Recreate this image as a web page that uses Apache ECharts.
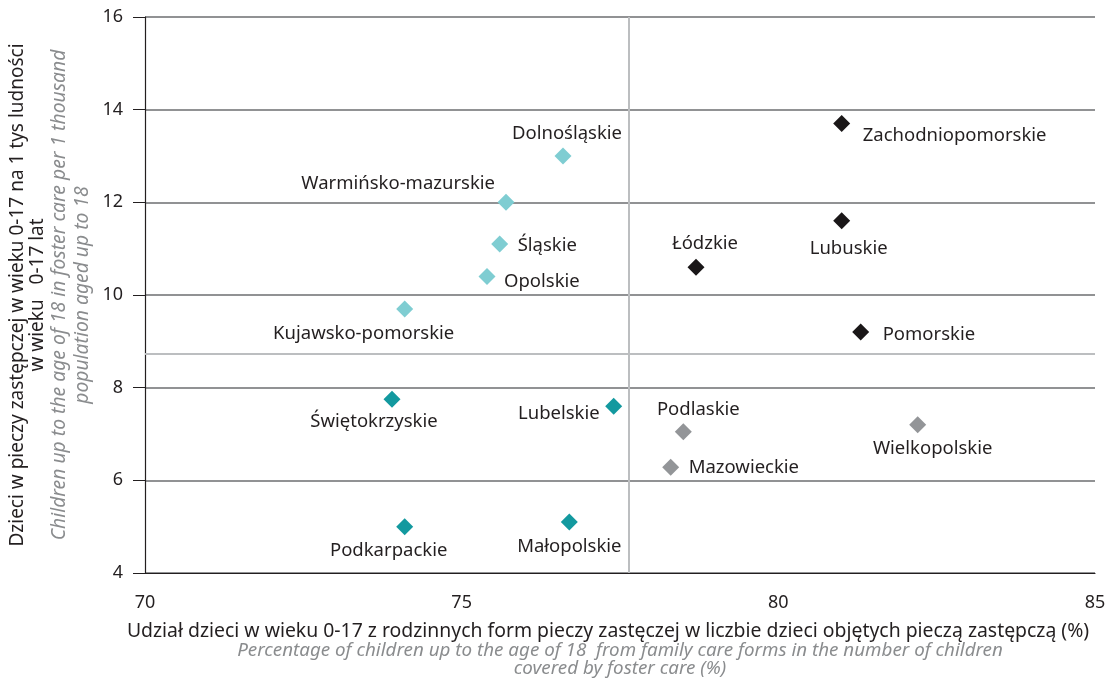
<!DOCTYPE html>
<html>
<head>
<meta charset="utf-8">
<script src="https://cdn.jsdelivr.net/npm/echarts@6/dist/echarts.min.js"></script>
<style>
  html, body { margin: 0; padding: 0; background: #fff; }
  #chart { width: 1106px; height: 678px; }
</style>
</head>
<body>
<div id="chart"></div>
<script>
// regions grouped by colour
const lightNames = ['Dolnośląskie', 'Warmińsko-mazurskie', 'Śląskie', 'Opolskie', 'Kujawsko-pomorskie']
const lightX = [76.6, 75.7, 75.6, 75.4, 74.1]
const lightY = [13.0, 12.0, 11.1, 10.4, 9.7]

const darkNames = ['Zachodniopomorskie', 'Lubuskie', 'Łódzkie', 'Pomorskie']
const darkX = [81.0, 81.0, 78.7, 81.3]
const darkY = [13.7, 11.6, 10.6, 9.2]

const tealNames = ['Świętokrzyskie', 'Lubelskie', 'Podkarpackie', 'Małopolskie']
const tealX = [73.9, 77.4, 74.1, 76.7]
const tealY = [7.75, 7.6, 5.0, 5.1]

const grayNames = ['Podlaskie', 'Mazowieckie', 'Wielkopolskie']
const grayX = [78.5, 78.3, 82.2]
const grayY = [7.05, 6.28, 7.2]

const xTicks = [70, 75, 80, 85]
const yTicks = [4, 6, 8, 10, 12, 14, 16]
const meanX = 77.64
const meanY = 8.73

// label placement: [align, dx, dy]
const labelPlace = {
  'Dolnośląskie': ['center', 4, -22],
  'Warmińsko-mazurskie': ['right', -11, -19],
  'Śląskie': ['left', 18, 2],
  'Opolskie': ['left', 17, 5],
  'Kujawsko-pomorskie': ['center', -41, 25],
  'Zachodniopomorskie': ['left', 21, 12],
  'Lubuskie': ['center', 7, 28],
  'Łódzkie': ['center', 9, -23],
  'Pomorskie': ['left', 22, 3],
  'Świętokrzyskie': ['center', -18, 22],
  'Lubelskie': ['right', -14, 8],
  'Podkarpackie': ['center', -16, 24],
  'Małopolskie': ['center', 0, 25],
  'Podlaskie': ['center', 15, -22],
  'Mazowieckie': ['left', 18, 0],
  'Wielkopolskie': ['center', 15, 24]
}

const labelFont = 'Noto Sans'
const narrow = 'Liberation Sans Narrow, Noto Sans'

function build (names, xs, ys) {
  return names.map((n, i) => {
    const p = labelPlace[n]
    return {
      name: n,
      value: [xs[i], ys[i]],
      label: {
        show: true,
        position: 'inside',
        align: p[0],
        verticalAlign: 'middle',
        offset: [p[1], p[2]],
        formatter: '{b}',
        color: '#231f20',
        fontSize: 18.5,
        fontFamily: labelFont
      }
    }
  })
}

function series (names, xs, ys, color, extra) {
  return Object.assign({
    type: 'scatter',
    symbol: 'diamond',
    symbolSize: 17,
    itemStyle: { color: color, opacity: 1 },
    emphasis: { disabled: true },
    data: build(names, xs, ys)
  }, extra || {})
}

const option = {
  animation: false,
  grid: { left: 145, right: 11, top: 17, bottom: 105, outerBoundsMode: 'none', containLabel: false },
  xAxis: {
    type: 'value',
    min: 70, max: 85, interval: 5,
    axisLine: { show: true, lineStyle: { color: '#231f20', width: 1.2 } },
    axisTick: { show: false },
    splitLine: { show: false },
    axisLabel: {
      margin: 21, fontSize: 18, color: '#231f20',
      fontFamily: narrow,
      formatter: v => xTicks.indexOf(v) >= 0 ? String(v) : ''
    },
    nameLocation: 'middle',
    nameGap: 48,
    name: '{a|Udział dzieci w wieku 0-17 z rodzinnych form pieczy zastęczej w liczbie dzieci objętych pieczą zastępczą (%)}\n{b|Percentage of children up to the age of 18  from family care forms in the number of children}\n{b|covered by foster care (%)}',
    nameTextStyle: {
      rich: {
        a: { fontSize: 19.4, color: '#231f20', fontFamily: narrow, lineHeight: 21, padding: [0, 24, 0, 0] },
        b: { fontSize: 18.8, color: '#8a8c8e', fontStyle: 'italic', fontFamily: narrow, lineHeight: 18 }
      }
    }
  },
  yAxis: {
    type: 'value',
    min: 4, max: 16, interval: 2,
    axisLine: { show: true, lineStyle: { color: '#231f20', width: 1.2 } },
    axisTick: { show: true, inside: false, length: 12, lineStyle: { color: '#231f20' } },
    splitLine: { show: true, lineStyle: { color: '#6d6e71', width: 1.5 } },
    axisLabel: {
      margin: 22, fontSize: 18, color: '#231f20', fontFamily: 'Noto Sans',
      formatter: v => yTicks.indexOf(v) >= 0 ? String(v) : ''
    },
    nameLocation: 'middle',
    nameRotate: 90,
    nameGap: 46,
    name: '{a|Dzieci w pieczy zastępczej w wieku 0-17 na 1 tys ludności}\n{a|w wieku   0-17 lat}\n{b|Children up to the age of 18 in foster care per 1 thousand}\n{b|population aged up to 18}',
    nameTextStyle: {
      rich: {
        a: { fontSize: 19, color: '#231f20', fontFamily: 'Noto Sans', lineHeight: 20 },
        b: { fontSize: 19.3, color: '#8a8c8e', fontStyle: 'italic', fontFamily: narrow, lineHeight: 23 }
      }
    }
  },
  series: [
    series(lightNames, lightX, lightY, '#7fcdd2', {
      markLine: {
        silent: true,
        symbol: 'none',
        label: { show: false },
        lineStyle: { color: '#bcbec0', width: 2, type: 'solid' },
        data: [{ xAxis: meanX }, { yAxis: meanY }]
      }
    }),
    series(darkNames, darkX, darkY, '#1a1718'),
    series(tealNames, tealX, tealY, '#13999f'),
    series(grayNames, grayX, grayY, '#939598')
  ]
}

echarts.init(document.getElementById('chart')).setOption(option)
</script>
</body>
</html>
